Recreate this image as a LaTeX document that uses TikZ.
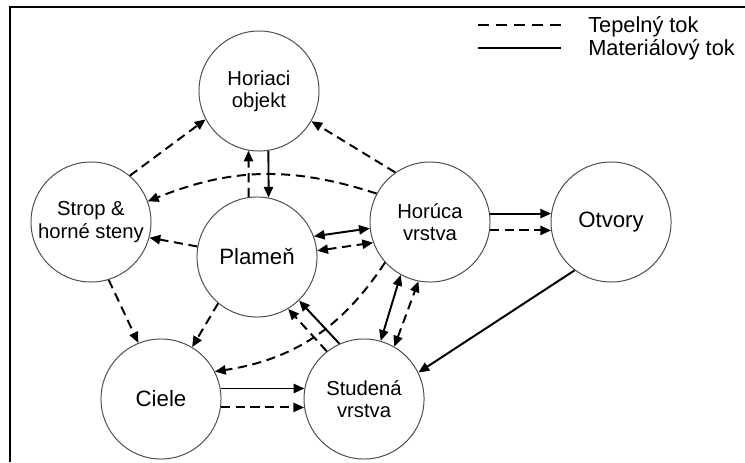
\documentclass[tikz,border=0pt]{standalone}
\usepackage{fontspec}
\setmainfont{Liberation Sans}
\usepackage{tikz}
\usetikzlibrary{arrows.meta, positioning}
\tikzset{
  % Node styles
  zone/.style={circle, draw=black!70, line width=0.7pt, minimum size=3cm, inner sep=1pt, align=center, fill=white, font=\fontsize{14.4}{15.8}\selectfont},
  bigzone/.style={zone, font=\fontsize{15.8}{17}\selectfont},
  % Connector styles
  arrow/.style={-{Triangle[length=2.7mm, width=2.3mm]}, line width=1.4pt},
  twoway/.style={{Triangle[length=2.7mm, width=2.3mm]}-{Triangle[length=2.7mm, width=2.3mm]}, line width=1.4pt},
  heat/.style={dash pattern=on 6.5pt off 4pt},
  legendtext/.style={anchor=base west, font=\fontsize{15.5}{17}\selectfont, inner sep=0pt},
  frame/.style={line width=1.4pt},
}

\begin{document}
\begin{tikzpicture}[x=0.025cm, y=-0.025cm]
    \useasboundingbox (0,0) rectangle (745,462);
    \draw[frame] (10,462) -- (10,7) -- (745,7);

    % Zones
    \node[zone] (horiaci) at (259,91) {Horiaci\\objekt};
    \node[zone] (strop) at (91,222) {Strop \&\\horné steny};
    \node[bigzone] (plamen) at (257,257) {Plameň};
    \node[zone] (horuca) at (430,222) {Horúca\\vrstva};
    \node[bigzone, right=1.5cm of horuca] (otvory) {Otvory};
    \node[bigzone] (ciele) at (161,399) {Ciele};
    \node[zone, right=2.05cm of ciele] (studena) {Studená\\vrstva};

    % Legend
    \coordinate (heatA) at (478,25);
    \coordinate (heatB) at (561,25);
    \coordinate (massA) at (478,48);
    \coordinate (massB) at (561,48);
    \draw[heat, dash pattern=on 8pt off 4.8pt, line width=1.3pt] (heatA) -- (heatB);
    \draw[line width=1.3pt] (massA) -- (massB);
    \node[legendtext] (heatlbl) at (588,32) {Tepelný tok};
    \node[legendtext] (masslbl) at (588,55) {Materiálový tok};

    % Arrows
    \draw[arrow, heat] (strop.50) -- (horiaci.208);
    \draw[arrow, heat] (horuca.125) -- (horiaci.330);
    \draw[arrow, heat] (horuca.152) to[bend right=20] (strop.20);
    \draw[arrow, heat] (plamen.170) -- (strop.-15);
    \draw[arrow, heat] (plamen.98) -- (horiaci.260);
    \draw[arrow] (horiaci.279) -- (plamen.79);
    \draw[twoway] (plamen.20) -- (horuca.186);
    \draw[twoway, heat] (plamen.6) -- (horuca.200);
    \draw[arrow] (horuca.8) -- (otvory.172);
    \draw[arrow, heat] (horuca.-8) -- (otvory.188);
    \draw[arrow, heat] (strop.287) -- (ciele.112);
    \draw[arrow, heat] (plamen.230) -- (ciele.59);
    \draw[arrow, heat] (horuca.222) to[bend left=24] (ciele.27);
    \draw[arrow] (studena.114) -- (plamen.314);
    \draw[arrow, heat] (studena.128) -- (plamen.301);
    \draw[twoway] (studena.74) -- (horuca.241);
    \draw[twoway, heat] (studena.60) -- (horuca.259);
    \draw[arrow] (otvory.233) -- (studena.26);
    \draw[arrow] (ciele.10) -- (studena.170);
    \draw[arrow, heat] (ciele.-8) -- (studena.188);
\end{tikzpicture}
\end{document}
